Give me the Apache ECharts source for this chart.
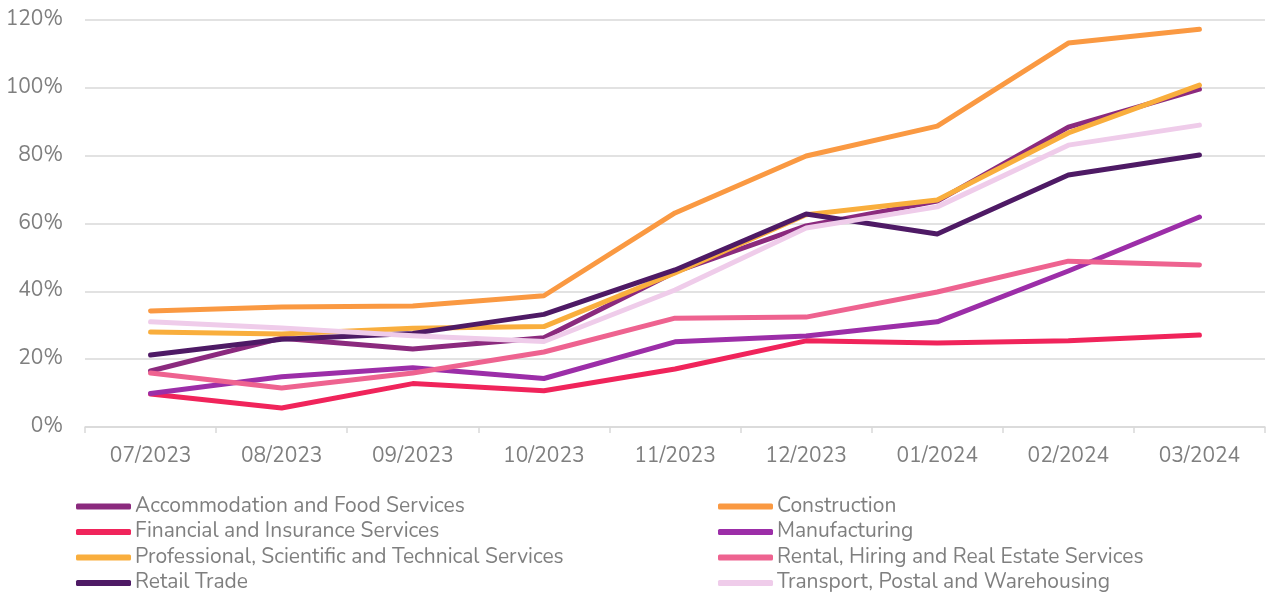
<!DOCTYPE html>
<html>
<head>
<meta charset="utf-8">
<script src="https://cdn.jsdelivr.net/npm/echarts@6/dist/echarts.min.js"></script>
<style>
  html, body { margin: 0; padding: 0; background: #fff; }
  #chart { width: 1274px; height: 599px; }
</style>
</head>
<body>
<div id="chart"></div>
<script>
// Months on the category axis
const months = ['07/2023', '08/2023', '09/2023', '10/2023', '11/2023', '12/2023', '01/2024', '02/2024', '03/2024'];

// Percentage change by industry (%)
const accommodation = [16.5, 26.2, 23.0, 26.3, 45.7, 59.3, 66.6, 88.4, 99.6];
const construction  = [34.2, 35.4, 35.7, 38.7, 63.1, 79.9, 88.7, 113.2, 117.3];
const financial     = [9.7, 5.6, 12.8, 10.7, 17.1, 25.4, 24.8, 25.4, 27.1];
const manufacturing = [9.9, 14.8, 17.5, 14.3, 25.1, 26.8, 31.0, 46.0, 61.9];
const professional  = [28.0, 27.4, 29.1, 29.6, 45.4, 62.6, 66.9, 86.7, 100.8];
const rental        = [15.9, 11.5, 15.9, 22.1, 32.1, 32.4, 39.8, 48.9, 47.8];
const retail        = [21.2, 25.9, 27.6, 33.2, 46.3, 62.8, 56.9, 74.3, 80.2];
const transport     = [31.0, 29.2, 26.9, 25.2, 40.4, 58.7, 64.9, 83.1, 89.0];

// Axis ticks
const yTicks = [0, 20, 40, 60, 80, 100, 120];

const seriesDefs = [
  { name: 'Accommodation and Food Services', data: accommodation, color: '#8B2A7E' },
  { name: 'Construction', data: construction, color: '#FA9942' },
  { name: 'Financial and Insurance Services', data: financial, color: '#F0245B' },
  { name: 'Manufacturing', data: manufacturing, color: '#9C2EA8' },
  { name: 'Professional, Scientific and Technical Services', data: professional, color: '#F9AE3D' },
  { name: 'Rental, Hiring and Real Estate Services', data: rental, color: '#EE6390' },
  { name: 'Retail Trade', data: retail, color: '#4E1A65' },
  { name: 'Transport, Postal and Warehousing', data: transport, color: '#EFCCEA' }
];

const fontFamily = 'Nunito, Lato, "Open Sans", sans-serif';
const textGray = '#7f7f7f';
const fontSize = 21;

const legendBase = {
  orient: 'vertical',
  top: 496,
  height: 110,
  padding: 0,
  icon: 'roundRect',
  itemWidth: 55,
  itemHeight: 6,
  itemGap: 4.5,
  textStyle: { color: textGray, fontSize: fontSize, fontFamily: fontFamily, padding: [0, 0, 0, -1], lineHeight: 21 }
};

const chart = echarts.init(document.getElementById('chart'), null, { renderer: 'canvas' });
chart.setOption({
  backgroundColor: '#ffffff',
  animation: false,
  grid: { left: 85, right: 9, top: 20, bottom: 172 },
  legend: [
    Object.assign({}, legendBase, {
      left: 76,
      data: [seriesDefs[0].name, seriesDefs[2].name, seriesDefs[4].name, seriesDefs[6].name]
    }),
    Object.assign({}, legendBase, {
      left: 718,
      data: [seriesDefs[1].name, seriesDefs[3].name, seriesDefs[5].name, seriesDefs[7].name]
    })
  ],
  xAxis: {
    type: 'category',
    data: months,
    boundaryGap: true,
    axisLine: { show: true, lineStyle: { color: '#d9d9d9', width: 1.5 } },
    axisTick: { show: true, length: 6, lineStyle: { color: '#d9d9d9', width: 1.5 } },
    axisLabel: { color: textGray, fontSize: fontSize, fontFamily: fontFamily, margin: 19 }
  },
  yAxis: {
    type: 'value',
    min: yTicks[0],
    max: yTicks[yTicks.length - 1],
    interval: 20,
    axisLine: { show: false },
    axisTick: { show: false },
    splitLine: { lineStyle: { color: '#d9d9d9', width: 1.5 } },
    axisLabel: { color: textGray, fontSize: fontSize, fontFamily: fontFamily, margin: 22, formatter: '{value}%' }
  },
  series: seriesDefs.map(s => ({
    name: s.name,
    type: 'line',
    data: s.data,
    showSymbol: false,
    symbol: 'none',
    color: s.color,
    lineStyle: { width: 5, color: s.color, cap: 'round', join: 'round' },
    itemStyle: { color: s.color }
  }))
});
</script>
</body>
</html>
